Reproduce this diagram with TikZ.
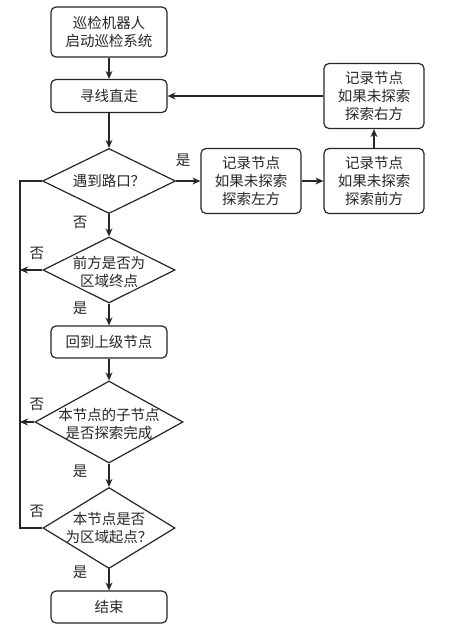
\documentclass[tikz,border=0pt]{standalone}
\usepackage{fontspec}
\newfontfamily\cjk{Noto Sans CJK SC}
\usetikzlibrary{shapes.geometric,arrows.meta}

\begin{document}
\begin{tikzpicture}[x=1pt,y=-1pt,font=\cjk\fontsize{14.5}{18}\selectfont,color=black!85]
        \tikzstyle{arrow} = [line width=1.2pt,->,>={Stealth[length=8pt,width=7pt]}]
        \tikzstyle{box} = [draw, rounded corners=5pt, line width=1.2pt, align=center, minimum width=116pt]
        \tikzstyle{note} = [draw, rounded corners=5pt, line width=1.2pt, align=center, minimum width=100pt, minimum height=65pt]
        \tikzstyle{decision} = [draw, diamond, line width=1.2pt, inner sep=0pt]
        \useasboundingbox (0,0) rectangle (450,630);

        % main column
        \node[box, minimum height=50pt] (start) at (109,32) {巡检机器人\\启动巡检系统};
        \node[box, minimum height=33pt] (walk) at (109,96) {寻线直走};
        \node[decision, minimum width=133pt, minimum height=65pt] (cross) at (109,181) {};
        \node (crosstext) at (cross) {遇到路口？};
        \node[decision, minimum width=132pt, minimum height=66pt] (goal) at (109,270) {};
        \node[align=center] (goaltext) at (109,272) {前方是否为\\区域终点};
        \node[box, minimum height=32pt] (back) at (109,342) {回到上级节点};
        \node[decision, minimum width=148pt, minimum height=82pt] (done) at (109,422) {};
        \node[align=center] (donetext) at (109,424) {本节点的子节点\\是否探索完成};
        \node[decision, minimum width=132pt, minimum height=81pt] (origin) at (109,528) {};
        \node[align=center] (origintext) at (109,528) {本节点是否\\为区域起点？};
        \node[box, minimum height=32pt] (finish) at (109,607) {结束};

        % right branch
        \node[note] (left) at (251,181) {记录节点\\如果未探索\\探索左方};
        \node[note] (front) at (374,181) {记录节点\\如果未探索\\探索前方};
        \node[note] (right) at (374,96) {记录节点\\如果未探索\\探索右方};

        % loop line
        \coordinate (looptop) at (20,181);
        \coordinate (loopbot) at (20,528);

        \draw [arrow] (start) -- (walk);
        \draw [arrow] (walk) -- (cross);
        \draw [arrow] (cross.east) -- (left.west);
        \draw [arrow] (left) -- (front);
        \draw [arrow] (front) -- (right);
        \draw [arrow] (right.west) -- (walk.east);
        \draw [arrow] (cross.south) -- (goal.north);
        \draw [arrow] (goal.south) -- (back.north);
        \draw [arrow] (back.south) -- (done.north);
        \draw [arrow] (done.south) -- (origin.north);
        \draw [arrow] (origin.south) -- (finish.north);
        \draw [line width=1.2pt] (origin.west) -- (loopbot) -- (looptop) -- (cross.west);
        \draw [arrow] (goal.west) -- (goal.west -| looptop);
        \draw [arrow] (done.west) -- (done.west -| looptop);

        % labels
        \node (yes1) at (183,160) {是};
        \node (no1) at (80,222) {否};
        \node (no2) at (37,253) {否};
        \node (yes2) at (80,308) {是};
        \node (no3) at (37,404) {否};
        \node (yes3) at (80,471) {是};
        \node (no4) at (37,511) {否};
        \node (yes4) at (80,572) {是};
    \end{tikzpicture}
\end{document}
